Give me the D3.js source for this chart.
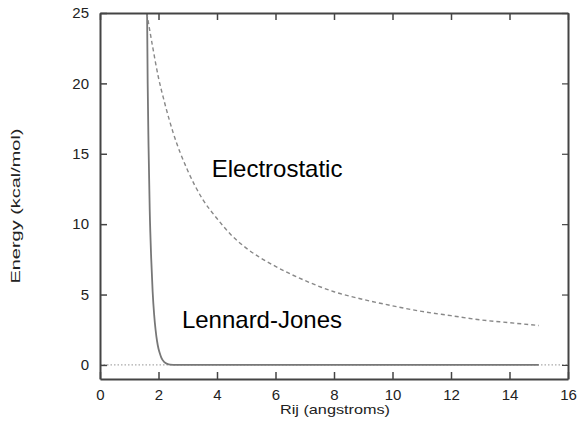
<!DOCTYPE html>
<html lang="en">
<head>
    <meta charset="UTF-8">
    <script src="https://cdnjs.cloudflare.com/ajax/libs/d3/7.8.5/d3.min.js" charset="utf-8"></script>
    <title>Energy vs Rij</title>
    <style>
        body { margin: 0; background: #fff; }
        text { font-family: "Liberation Sans", Arial, sans-serif; }
    </style>
</head>
<body>
<svg id="chart" width="581" height="423"></svg>
<script>
    // values
    var xTicks = [0, 2, 4, 6, 8, 10, 12, 14, 16];
    var yTicks = [0, 5, 10, 15, 20, 25];

    var elecR = [1.6, 1.8, 2.0, 2.2, 2.5, 3.0, 3.5, 4.0, 4.5, 5.0, 6.0, 7.0, 8.0, 9.0, 10.0, 11.0, 12.0, 13.0, 14.0, 15.0];
    var elecE = [25.0, 22.6, 20.4, 18.7, 16.5, 13.8, 11.8, 10.4, 9.2, 8.3, 7.0, 6.0, 5.2, 4.65, 4.2, 3.8, 3.5, 3.2, 3.0, 2.8];

    var ljR = [1.61, 1.63, 1.66, 1.70, 1.75, 1.80, 1.85, 1.90, 1.95, 2.00, 2.05, 2.10, 2.20, 2.30, 2.40, 2.60, 3.0, 15.0];
    var ljE = [25.0, 20.0, 15.5, 11.0, 7.6, 5.2, 3.6, 2.5, 1.7, 1.15, 0.8, 0.5, 0.2, 0.07, 0.02, 0.0, 0.0, 0.0];

    var labels = [
        {text: 'Electrostatic', r: 3.82, e: 13.35},
        {text: 'Lennard-Jones', r: 2.8, e: 2.65}
    ];

    var svg = d3.select('#chart');
    var x = d3.scaleLinear().domain([0, 16]).range([100, 568]);
    var y = d3.scaleLinear().domain([-1, 25]).range([379, 13]);

    var plot = svg.append('g');

    plot.append('clipPath').attr('id', 'clip')
        .append('rect')
        .attr('x', x(0)).attr('y', y(25))
        .attr('width', x(16) - x(0)).attr('height', y(-1) - y(25));

    // dotted zero line
    plot.append('line')
        .attr('x1', x(0)).attr('x2', x(16))
        .attr('y1', y(0)).attr('y2', y(0))
        .attr('stroke', '#aaa')
        .attr('stroke-width', 1.2)
        .attr('stroke-dasharray', '1.5,2');

    var line = d3.line()
        .x(function(d) { return x(d[0]); })
        .y(function(d) { return y(d[1]); })
        .curve(d3.curveMonotoneX);

    var elec = d3.zip(elecR, elecE);
    var lj = d3.zip(ljR, ljE);

    plot.append('path')
        .datum(lj)
        .attr('clip-path', 'url(#clip)')
        .attr('d', line)
        .attr('fill', 'none')
        .attr('stroke', '#777')
        .attr('stroke-width', 1.8);

    plot.append('path')
        .datum(elec)
        .attr('clip-path', 'url(#clip)')
        .attr('d', line)
        .attr('fill', 'none')
        .attr('stroke', '#888')
        .attr('stroke-width', 1.4)
        .attr('stroke-dasharray', '4,3');

    // axes with inward ticks
    var frame = svg.append('g').attr('color', '#444');

    frame.append('g')
        .attr('transform', 'translate(0,' + y(-1) + ')')
        .call(d3.axisBottom(x).tickValues(xTicks).tickSizeInner(-7).tickSizeOuter(0).tickPadding(10))
        .call(function(g) {
            g.select('.domain').attr('stroke-width', 2);
            g.selectAll('.tick line').attr('stroke-width', 1.5);
            g.selectAll('.tick text').attr('font-size', 15).attr('fill', '#222');
        });

    frame.append('g')
        .attr('transform', 'translate(0,' + y(25) + ')')
        .call(d3.axisTop(x).tickValues(xTicks).tickSizeInner(-7).tickSizeOuter(0).tickFormat(''))
        .call(function(g) {
            g.select('.domain').attr('stroke-width', 2);
            g.selectAll('.tick line').attr('stroke-width', 1.5);
        });

    frame.append('g')
        .attr('transform', 'translate(' + x(0) + ',0)')
        .call(d3.axisLeft(y).tickValues(yTicks).tickSizeInner(-7).tickSizeOuter(0).tickPadding(11))
        .call(function(g) {
            g.select('.domain').attr('stroke-width', 2);
            g.selectAll('.tick line').attr('stroke-width', 1.5);
            g.selectAll('.tick text').attr('font-size', 15).attr('fill', '#222');
        });

    frame.append('g')
        .attr('transform', 'translate(' + x(16) + ',0)')
        .call(d3.axisRight(y).tickValues(yTicks).tickSizeInner(-6).tickSizeOuter(0).tickFormat(''))
        .call(function(g) {
            g.select('.domain').attr('stroke-width', 2);
            g.selectAll('.tick line').attr('stroke-width', 1.2);
        });

    // axis titles
    svg.append('text')
        .attr('x', 335).attr('y', 414)
        .attr('text-anchor', 'middle')
        .attr('font-size', 13)
        .attr('fill', '#222')
        .attr('textLength', 110)
        .attr('lengthAdjust', 'spacingAndGlyphs')
        .text('Rij (angstroms)');

    svg.append('text')
        .attr('transform', 'translate(20,206) rotate(-90)')
        .attr('text-anchor', 'middle')
        .attr('font-size', 12)
        .attr('fill', '#222')
        .attr('textLength', 155)
        .attr('lengthAdjust', 'spacingAndGlyphs')
        .text('Energy (kcal/mol)');

    // curve labels
    svg.selectAll('.curve-label')
        .data(labels)
        .enter().append('text')
        .attr('class', 'curve-label')
        .attr('x', function(d) { return x(d.r); })
        .attr('y', function(d) { return y(d.e); })
        .attr('font-size', 24)
        .attr('fill', '#000')
        .text(function(d) { return d.text; });
</script>
</body>
</html>
